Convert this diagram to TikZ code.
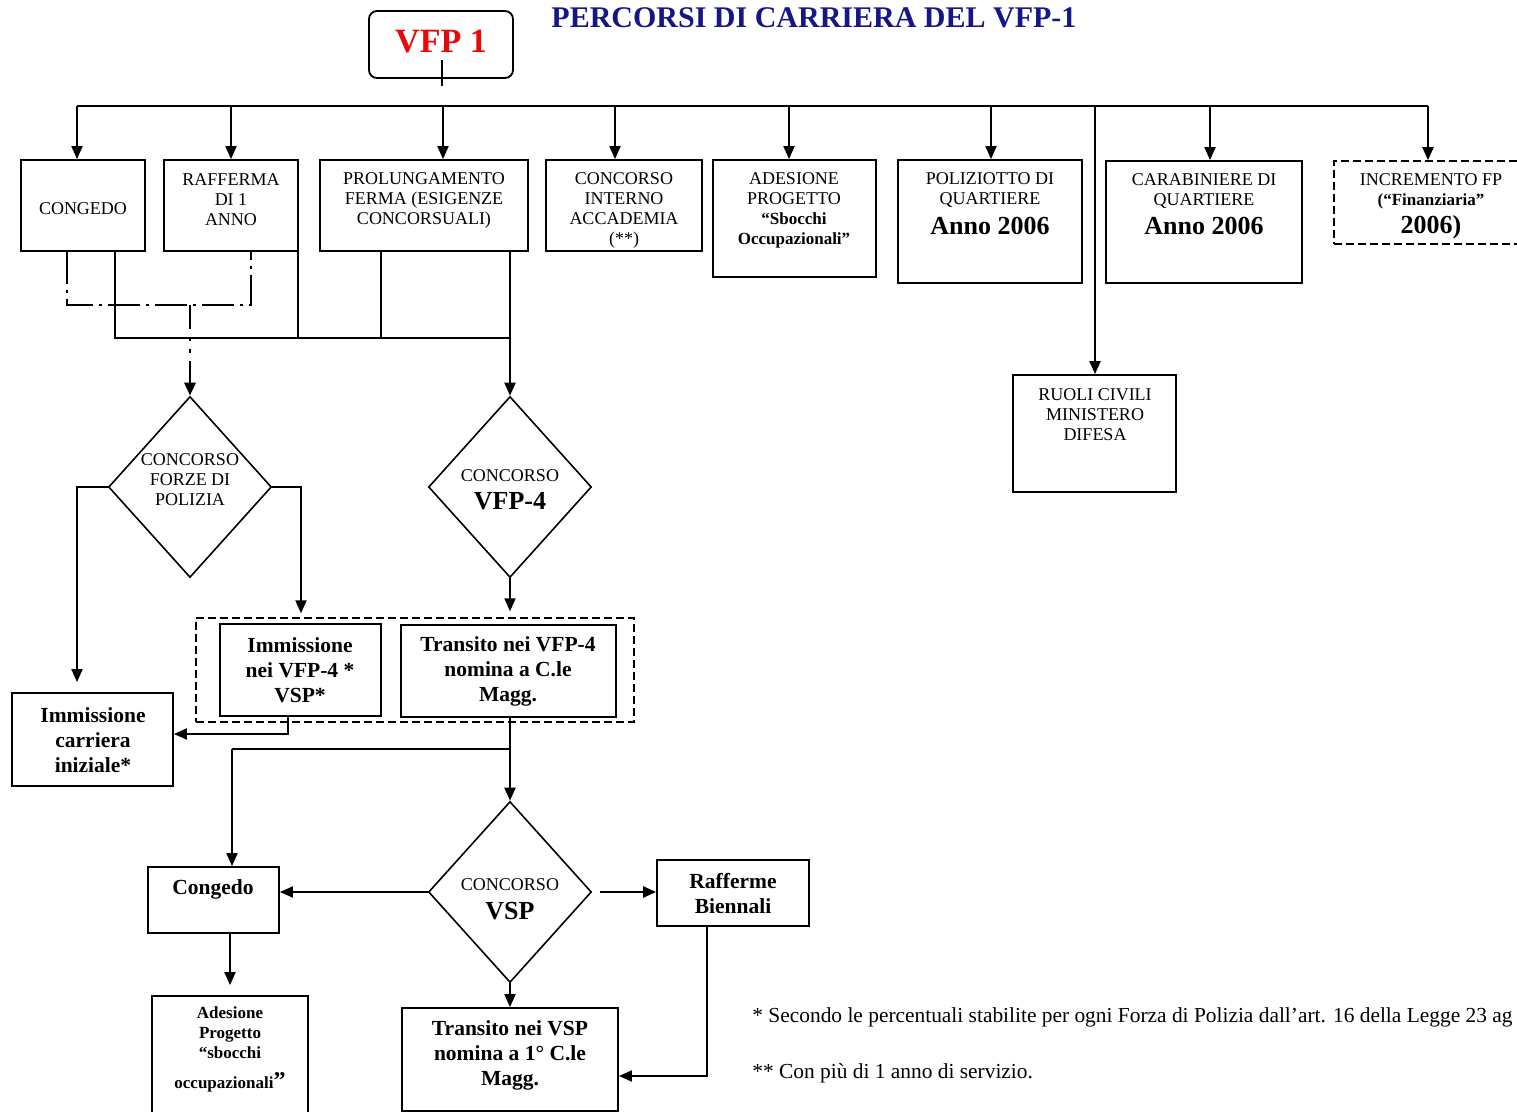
\documentclass[tikz,border=0pt]{standalone}
\usepackage{fontspec}
\setmainfont{Liberation Serif}
\usetikzlibrary{arrows.meta,shapes.geometric,fit}
\definecolor{navy}{RGB}{22,22,135}
\definecolor{vred}{RGB}{230,10,10}
\begin{document}
\begin{tikzpicture}[x=0.5pt,y=-0.5pt,
 box/.style={draw, line width=0.9pt, inner sep=0pt},
 dbox/.style={draw, line width=0.8pt, dash pattern=on 4pt off 2pt, inner sep=0pt},
 dia/.style={draw, diamond, line width=0.8pt, inner sep=0pt, minimum width=81.5pt, minimum height=90.5pt},
 capt/.style={font=\fontsize{9}{10}\selectfont, align=center, inner sep=0pt},
 bt/.style={font=\bfseries\fontsize{10.75}{12.5}\selectfont, align=center, inner sep=0pt},
 big/.style={font=\bfseries\fontsize{13}{15}\selectfont, align=center, inner sep=0pt},
 small/.style={font=\bfseries\fontsize{8.5}{10}\selectfont, align=center, inner sep=0pt},
 arr/.style={line width=1pt, -{Triangle[length=6.5pt,width=5.5pt]}},
 ln/.style={line width=0.7pt},
 dd/.style={line width=1.4pt, dash pattern=on 16pt off 3pt on 1.5pt off 3pt},
 ddarr/.style={line width=1.4pt, dash pattern=on 12pt off 4pt on 2pt off 4pt on 2pt off 4pt, -{Triangle[length=6.5pt,width=5.5pt]}},
 note/.style={font=\fontsize{10.7}{12}\selectfont, inner sep=0pt, anchor=base west}]
\useasboundingbox (0,0) rectangle (1517,1112);

% title and root
\node[font=\bfseries\fontsize{15}{17}\selectfont, text=navy, inner sep=0pt] (title) at (814,18) {PERCORSI DI CARRIERA DEL VFP-1};
\node[box, rounded corners=4pt, fit={(369,11)(513,78)}] (vfp1) {};
\node[font=\bfseries\fontsize{17}{19}\selectfont, text=vred, inner sep=0pt] (vfp1-t) at (441,42) {VFP 1};
\coordinate (stubA) at (442,60);
\coordinate (stubB) at (442,86);
\draw[ln] (stubA) -- (stubB);

% top row boxes
\node[box, fit={(21,160)(145,251)}] (congedo) {};
\node[capt] (congedo-t) at (83,209) {CONGEDO};
\node[box, fit={(164,160)(298,251)}] (raff) {};
\node[capt] (raff-t) at (231,200) {RAFFERMA\\DI 1\\ANNO};
\node[box, fit={(320,160)(528,251)}] (prol) {};
\node[capt] (prol-t) at (424,200) {PROLUNGAMENTO\\FERMA (ESIGENZE\\CONCORSUALI)};
\node[box, fit={(546,160)(702,251)}] (cint) {};
\node[capt] (cint-t) at (624,210) {CONCORSO\\INTERNO\\ACCADEMIA\\(**)};
\node[box, fit={(713,160)(876,277)}] (ades) {};
\node[capt] (ades-t) at (794,210) {ADESIONE\\PROGETTO\\{\bfseries\fontsize{8.5}{10}\selectfont “Sbocchi}\\{\bfseries\fontsize{8.5}{10}\selectfont Occupazionali”}};
\node[box, fit={(898,160)(1082,283)}] (poliz) {};
\node[capt] (poliz-t) at (990,190) {POLIZIOTTO DI\\QUARTIERE};
\node[big] (poliz-a) at (990,226) {Anno 2006};
\node[box, fit={(1106,161)(1302,283)}] (carab) {};
\node[capt] (carab-t) at (1204,191) {CARABINIERE DI\\QUARTIERE};
\node[big] (carab-a) at (1204,226) {Anno 2006};
\node[dbox, fit={(1334,161)(1540,244)}] (incr) {};
\node[capt] (incr-t) at (1431,191) {INCREMENTO FP\\{\bfseries\fontsize{8.5}{10}\selectfont (“Finanziaria”}};
\node[big] (incr-a) at (1431,227) {2006)};
\node[box, fit={(1013,375)(1176,492)}] (ruoli) {};
\node[capt] (ruoli-t) at (1095,415) {RUOLI CIVILI\\MINISTERO\\DIFESA};

% bus
\coordinate (bL) at (77,106);
\coordinate (b2) at (231,106);
\coordinate (b3) at (443,106);
\coordinate (b4) at (615,106);
\coordinate (b5) at (789,106);
\coordinate (b6) at (991,106);
\coordinate (b7) at (1095,106);
\coordinate (b8) at (1210,106);
\coordinate (bR) at (1428,106);
\draw[line width=1pt] (bL) -- (bR);
\foreach \c/\n in {bL/congedo, b2/raff, b3/prol, b4/cint, b5/ades, b6/poliz, b7/ruoli, b8/carab, bR/incr}
  \draw[arr] (\c) -- (\c |- \n.north);

% diamonds
\node[dia] (cfp) at (190,487) {};
\node[capt] (cfp-t) at (190,480) {CONCORSO\\FORZE DI\\POLIZIA};
\node[dia] (cvfp4) at (510,487) {};
\node[capt] (cvfp4-t) at (510,476) {CONCORSO};
\node[big] (cvfp4-v) at (510,501) {VFP-4};
\node[dia] (cvsp) at (510,892) {};
\node[capt] (cvsp-t) at (510,885) {CONCORSO};
\node[big] (cvsp-v) at (510,911) {VSP};

% connectors top row -> diamonds
\coordinate (brL) at (67,305);
\coordinate (brR) at (251,305);
\coordinate (brM) at (190,305);
\draw[dd] (brL |- congedo.south) -- (brL) -- (brR) -- (brR |- raff.south);
\draw[ddarr] (brM) -- (cfp.north);
\coordinate (j1) at (115,338);
\coordinate (j2) at (298,338);
\coordinate (j3) at (381,338);
\coordinate (j4) at (510,338);
\draw[ln] (j1 |- congedo.south) -- (j1) -- (j4);
\draw[ln] (j2 |- raff.south) -- (j2);
\draw[ln] (j3 |- prol.south) -- (j3);
\draw[arr] (j4 |- prol.south) -- (cvfp4.north);

% middle boxes
\node[dbox, line width=0.7pt, fit={(196,618)(634,722)}] (grp) {};
\node[box, fit={(220,624)(381,716)}] (immv) {};
\node[bt] (immv-t) at (300,670) {Immissione\\nei VFP-4 *\\VSP*};
\node[box, fit={(401,625)(616,717)}] (trv) {};
\node[bt] (trv-t) at (508,671) {Transito nei VFP-4\\nomina a C.le\\Magg.};
\node[box, fit={(12,693)(173,786)}] (immc) {};
\node[bt] (immc-t) at (93,740) {Immissione\\carriera\\iniziale*};

\coordinate (la) at (77,487);
\draw[arr, shorten >=5pt] (cfp.west) -- (la) -- (la |- immc.north);
\coordinate (ra) at (301,487);
\draw[arr, shorten >=2pt] (cfp.east) -- (ra) -- (ra |- grp.north);
\draw[arr, shorten >=3pt] (cvfp4.south) -- (cvfp4.south |- grp.north);
\coordinate (ia) at (288,734);
\draw[arr] (ia |- immv.south) -- (ia) -- (ia -| immc.east);

% lower part
\node[box, fit={(148,867)(279,933)}] (cong2) {};
\node[bt] (cong2-t) at (213,889) {Congedo};
\node[box, fit={(657,860)(809,926)}] (raff2) {};
\node[bt] (raff2-t) at (733,894) {Rafferme\\Biennali};
\node[box, fit={(402,1008)(618,1111)}] (trvsp) {};
\node[bt] (trvsp-t) at (510,1055) {Transito nei VSP\\nomina a 1° C.le\\Magg.};
\node[box, fit={(152,996)(308,1125)}] (ades2) {};
\node[small] (ades2-t) at (230,1049) {Adesione\\Progetto\\“sbocchi\\[5pt]occupazionali{\fontsize{12}{12}\selectfont ”}};

\coordinate (ta) at (510,749);
\coordinate (tb) at (232,749);
\draw[arr] (ta |- trv.south) -- (cvsp.north);
\draw[ln] (ta) -- (tb);
\draw[arr] (tb) -- (tb |- cong2.north);
\draw[arr] (cvsp.west) -- (cvsp.west -| cong2.east);
\draw[arr, line width=1.3pt, shorten <=4pt] (cvsp.east) -- (cvsp.east -| raff2.west);
\coordinate (rb) at (707,1076);
\draw[arr] (rb |- raff2.south) -- (rb) -- (rb -| trvsp.east);
\draw[arr] (cvsp.south) -- (trvsp.north);
\coordinate (ca) at (230,933);
\draw[arr, shorten >=5pt] (ca) -- (ca |- ades2.north);

% notes
\node[note] (n1) at (752,1022) {* Secondo le percentuali stabilite per ogni Forza di Polizia dall’art. 16 della Legge 23 ag};
\node[note] (n2) at (752,1078) {** Con più di 1 anno di servizio.};
\end{tikzpicture}
\end{document}
